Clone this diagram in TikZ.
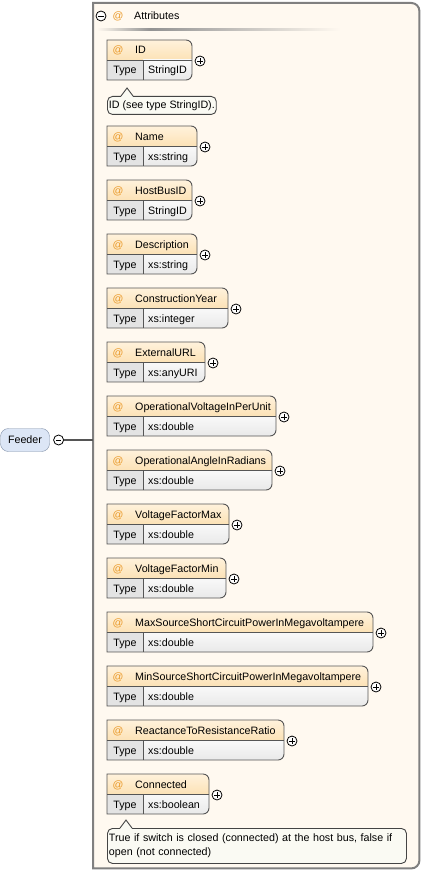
\documentclass[tikz,border=0pt]{standalone}
\usepackage{fontspec}
\setmainfont{Liberation Sans}
\usetikzlibrary{positioning, calc}
\definecolor{grpfill}{HTML}{FFF9F0}
\definecolor{grpdraw}{HTML}{808080}
\definecolor{hdtop}{HTML}{FFF2DC}
\definecolor{hdbot}{HTML}{FCE2B6}
\definecolor{typefill}{HTML}{E3E3E3}
\definecolor{valtop}{HTML}{F9F9F9}
\definecolor{valbot}{HTML}{E9E9E9}
\definecolor{boxdraw}{HTML}{555555}
\definecolor{atcolor}{HTML}{EA9A2A}
\definecolor{feederfill}{HTML}{DCE6F6}
\definecolor{feederdraw}{HTML}{8090A8}
\definecolor{docfill}{HTML}{FAFAF3}
\definecolor{docdraw}{HTML}{444444}
\tikzset{
    feederbox/.style={rectangle, draw=feederdraw, fill=feederfill, rounded corners=8pt, minimum width=49pt, minimum height=23pt, inner sep=0pt},
    plusnode/.style={circle, draw, line width=0.8pt, fill=white, minimum size=10pt, inner sep=0pt,
        path picture={\draw[line width=0.8pt] ([xshift=-2.8pt]path picture bounding box.center) -- ([xshift=2.8pt]path picture bounding box.center);
                      \draw[line width=0.8pt] ([yshift=-2.8pt]path picture bounding box.center) -- ([yshift=2.8pt]path picture bounding box.center);}},
    minusnode/.style={circle, draw, line width=0.8pt, fill=white, minimum size=10pt, inner sep=0pt,
        path picture={\draw[line width=0.8pt] ([xshift=-2.8pt]path picture bounding box.center) -- ([xshift=2.8pt]path picture bounding box.center);}},
    attxt/.style={text=atcolor, inner sep=0pt, anchor=base},
    nametxt/.style={inner sep=0pt, anchor=base west},
    boxline/.style={draw=boxdraw, line width=0.9pt},
    docbox/.style={rectangle, draw=docdraw, fill=docfill, line width=0.9pt, rounded corners=5pt, inner xsep=1.5pt, inner ysep=0pt},
    connline/.style={draw=boxdraw, line width=2pt}
}
% outline of one attribute box: top y, right x
\newcommand{\attrpath}[2]{(107,#1) -- ({(107+#2)/2},#1) [rounded corners=6pt] -- (#2,#1) -- (#2,#1+40) -- ({(107+#2)/2},#1+40) [sharp corners] -- (107,#1+40) -- cycle}
\begin{document}
\begin{tikzpicture}[x=1pt, y=-1pt, font=\fontsize{10.7}{13.5}\selectfont]
    \useasboundingbox (0,0) rectangle (438,872);

    % attribute group
    \node (grp) [minimum width=326pt, minimum height=865pt, inner sep=0pt, anchor=north west] at (93,3) {};
    \draw[draw=grpdraw, fill=grpfill, line width=2pt] (grp.south west) -- (grp.south) [rounded corners=8pt] -- (grp.south east) -- (grp.north east) -- (grp.north) [sharp corners] -- (grp.north west) -- cycle;
    \node (gminus) [minusnode] at (101,16) {};
    \node (gat) [attxt] at (118,20) {@};
    \node (gtitle) [nametxt] at (134,20) {Attributes};
    \shade[left color=grpfill, right color=gray!85] (97,29) rectangle (150,31);
    \shade[left color=gray!85, right color=grpfill] (150,29) rectangle (340,31);

    % element
    \node (feeder) [feederbox] at (25,440) {Feeder};
    \node (fminus) [minusnode, right=3.5pt of feeder] {};
    \draw[connline] (fminus) -- (fminus -| grp.west);

    % attributes
    \foreach \t/\r/\n/\ty [count=\i] in {
        40/192/ID/StringID,
        126/197/Name/xs:string,
        180/192/HostBusID/StringID,
        234/197/Description/xs:string,
        288/228/ConstructionYear/xs:integer,
        342/205/ExternalURL/xs:anyURI,
        396/276/OperationalVoltageInPerUnit/xs:double,
        450/272/OperationalAngleInRadians/xs:double,
        504/229/VoltageFactorMax/xs:double,
        558/226/VoltageFactorMin/xs:double,
        612/373/MaxSourceShortCircuitPowerInMegavoltampere/xs:double,
        666/368/MinSourceShortCircuitPowerInMegavoltampere/xs:double,
        720/284/ReactanceToResistanceRatio/xs:double,
        774/209/Connected/xs:boolean} {
        \begin{scope}
            \clip \attrpath{\t}{\r};
            \shade[top color=hdtop, bottom color=hdbot] (107,\t) rectangle (\r,\t+20);
            \fill[typefill] (107,\t+20) rectangle (143,\t+40);
            \shade[top color=valtop, bottom color=valbot] (143,\t+20) rectangle (\r,\t+40);
        \end{scope}
        \draw[boxline] (107,\t+20) -- (\r,\t+20) (143,\t+20) -- (143,\t+40);
        \draw[boxline] \attrpath{\t}{\r};
        \node (at\i) [attxt] at (118,\t+14) {@};
        \node (nm\i) [nametxt] at (135,\t+14) {\n};
        \node (ty\i) [inner sep=0pt, anchor=base] at (125,\t+34) {Type};
        \node (tv\i) [nametxt] at (148,\t+34) {\ty};
        \node (pl\i) [plusnode] at (\r+8,\t+21) {};
    }

    % documentation
    \node (iddoc) [docbox, anchor=north west, minimum height=18pt] at (107,96) {ID (see type StringID).};
    \fill[docfill] ([xshift=14pt,yshift=-0.8pt]iddoc.north west) -- ([xshift=20pt,yshift=8pt]iddoc.north west) -- ([xshift=26pt,yshift=-0.8pt]iddoc.north west) -- cycle;
    \draw[docdraw, line width=0.9pt] ([xshift=14pt]iddoc.north west) -- ([xshift=20pt,yshift=8pt]iddoc.north west) -- ([xshift=26pt]iddoc.north west);

    \node (cndoc) [docbox, anchor=north west, minimum height=35pt, text width=296pt, align=left] at (107,828) {True if switch is closed (connected) at the host bus, false if\\ open (not connected)};
    \fill[docfill] ([xshift=13pt,yshift=-0.8pt]cndoc.north west) -- ([xshift=19pt,yshift=8pt]cndoc.north west) -- ([xshift=25pt,yshift=-0.8pt]cndoc.north west) -- cycle;
    \draw[docdraw, line width=0.9pt] ([xshift=13pt]cndoc.north west) -- ([xshift=19pt,yshift=8pt]cndoc.north west) -- ([xshift=25pt]cndoc.north west);
\end{tikzpicture}
\end{document}
